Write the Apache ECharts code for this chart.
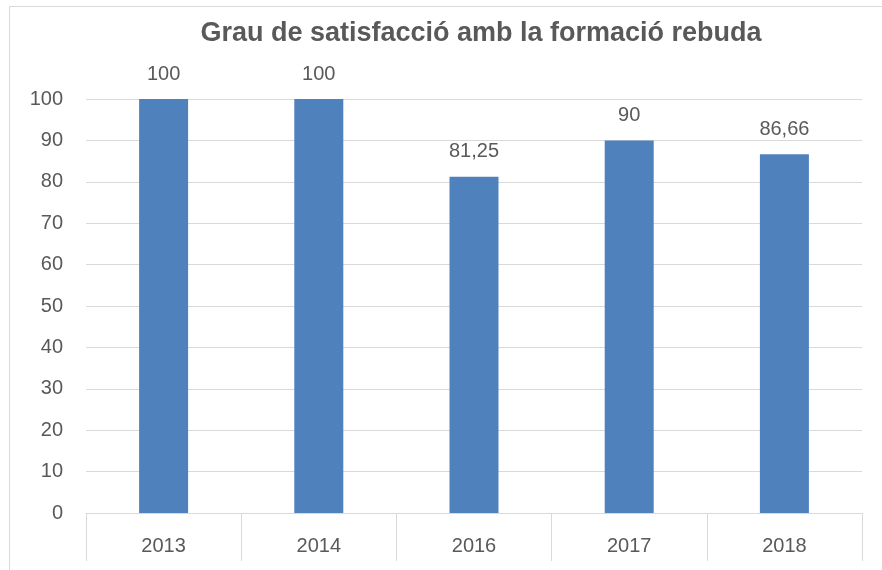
<!DOCTYPE html>
<html>
<head>
<meta charset="utf-8">
<script src="https://cdn.jsdelivr.net/npm/echarts@6/dist/echarts.min.js"></script>
<style>
  html, body { margin: 0; padding: 0; background: #fff; }
  #chart { width: 882px; height: 570px; }
</style>
</head>
<body>
<div id="chart"></div>
<script>
var years = ['2013', '2014', '2016', '2017', '2018'];
var values = [100, 100, 81.25, 90, 86.66];
var yTicks = [0, 10, 20, 30, 40, 50, 60, 70, 80, 90, 100];

var myChart = echarts.init(document.getElementById('chart'));
var grey = '#595959';
var lineColor = '#d9d9d9';
var font = 'Liberation Sans, Noto Sans, sans-serif';

var option = {
  animation: false,
  graphic: [{
    type: 'rect',
    shape: { x: 9.5, y: 6.5, width: 900, height: 600 },
    style: { fill: 'none', stroke: lineColor, lineWidth: 1 }
  }],
  title: {
    text: 'Grau de satisfacció amb la formació rebuda',
    left: 476,
    textAlign: 'center',
    top: 15,
    textStyle: { fontSize: 27, fontWeight: 'bold', color: grey, fontFamily: font }
  },
  grid: { left: 86, right: 20, top: 99, bottom: 57 },
  xAxis: {
    type: 'category',
    data: years,
    axisLine: { lineStyle: { color: lineColor } },
    axisTick: { show: true, length: 48, interval: 0, lineStyle: { color: lineColor } },
    axisLabel: { color: grey, fontSize: 20, margin: 23, fontFamily: font }
  },
  yAxis: {
    type: 'value',
    min: yTicks[0],
    max: yTicks[yTicks.length - 1],
    interval: 10,
    axisLine: { show: false },
    axisTick: { show: false },
    splitLine: { lineStyle: { color: lineColor } },
    axisLabel: { color: grey, fontSize: 20, margin: 23, fontFamily: font }
  },
  series: [{
    type: 'bar',
    data: values,
    barWidth: 49,
    itemStyle: { color: '#4f81bd' },
    label: {
      show: true,
      position: 'top',
      distance: 15,
      color: grey,
      fontSize: 20,
      fontFamily: font,
      formatter: function (p) { return String(p.value).replace('.', ','); }
    }
  }]
};
myChart.setOption(option);
</script>
</body>
</html>
